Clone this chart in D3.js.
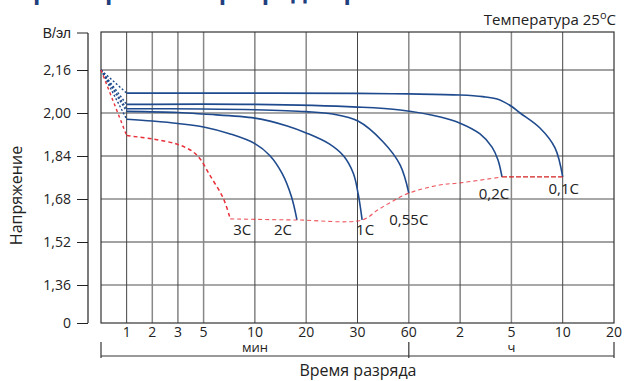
<!DOCTYPE html>
<html>
<head>
<meta charset="utf-8">
<script src="https://cdn.jsdelivr.net/npm/d3@7"></script>
<style>
  html, body { margin: 0; padding: 0; background: #fff; }
  svg { display: block; font-family: "Open Sans", "Noto Sans", sans-serif; }
</style>
</head>
<body>
<svg id="chart" width="624" height="381"></svg>
<script>
// Discharge time axis: minutes, with the tick labels as printed (min, then hours)
const timeTicks = [1, 2, 3, 5, 10, 20, 30, 60, 120, 300, 600, 1200];
const timeTickLabels = ["1", "2", "3", "5", "10", "20", "30", "60", "2", "5", "10", "20"];
// Voltage axis, V per cell
const voltTicks = [1.36, 1.52, 1.68, 1.84, 2.00, 2.16];
const voltTickLabels = ["1,36", "1,52", "1,68", "1,84", "2,00", "2,16"];

// Initial point common to all curves [min, V]
const startPoint = [0, 2.16];

// Discharge curves [minutes, V/cell]
const curve01C = [[1, 2.074], [10, 2.074], [30, 2.073], [60, 2.071], [120, 2.067], [200, 2.061], [250, 2.052], [300, 2.025], [351, 2.000], [467, 1.944], [555, 1.870], [600, 1.762]];
const curve02C = [[1, 2.032], [10, 2.032], [30, 2.022], [55, 2.011], [97, 1.985], [120, 1.962], [190, 1.922], [232, 1.873], [253, 1.825], [267, 1.762]];
const curve055C = [[1, 2.016], [5, 2.015], [10, 2.012], [20, 2.005], [25.2, 1.996], [30.3, 1.970], [44.9, 1.893], [54.9, 1.807], [60, 1.702]];
const curve1C = [[1, 2.006], [3, 2.002], [5, 1.996], [10, 1.981], [16.3, 1.952], [20, 1.926], [24.5, 1.885], [27.3, 1.840], [29.2, 1.775], [30.5, 1.695], [32.7, 1.602]];
const curve2C = [[1, 1.977], [2, 1.970], [3, 1.961], [5, 1.948], [7.6, 1.922], [10, 1.886], [12.9, 1.842], [15.3, 1.775], [17.1, 1.690], [18.2, 1.602]];
const curve3C = [[1, 1.916], [2.03, 1.903], [3, 1.883], [4.1, 1.858], [4.72, 1.830], [5.6, 1.769], [6.9, 1.684], [7.6, 1.606]];
// Final voltage line through the ends of the curves
const endVoltage = [[7.6, 1.606], [18.2, 1.602], [32.7, 1.602], [42, 1.640], [50, 1.670], [60, 1.702], [96, 1.732], [120, 1.740], [267, 1.762], [600, 1.762]];

const rateLabels = ["0,1C", "0,2C", "0,55C", "1C", "2C", "3C"];

const svg = d3.select("#chart");
const plot = { left: 101, right: 614, top: 32, bottom: 323 };

// Piecewise time scale: first four ticks at single spacing, the rest at double spacing
const units = [0, 1, 2, 3, 4, 6, 8, 10, 12, 14, 16, 18, 20];
const unitW = (plot.right - plot.left) / 20;
const x = d3.scaleLinear()
  .domain([0, ...timeTicks])
  .range(units.map(u => plot.left + u * unitW));

// Broken voltage axis: "0" at the bottom, then 1,36 ... 2,16 evenly spaced
const y = d3.scaleLinear()
  .domain([0, 1.36, 2.16])
  .range([plot.bottom, 285, 70]);

// Title (cropped at the top edge)
svg.append("text")
  .attr("x", 300).attr("y", -1)
  .attr("text-anchor", "middle")
  .attr("font-size", 24).attr("font-weight", "bold")
  .attr("fill", "#1f3f7f")
  .text("Характеристики разряда при постоянном токе");

// Temperature note
const temp = svg.append("text")
  .attr("x", 616).attr("y", 25)
  .attr("text-anchor", "end")
  .attr("font-size", 15).attr("fill", "#222");
temp.append("tspan").text("Температура 25");
temp.append("tspan").attr("dy", -6).attr("font-size", 11).text("o");
temp.append("tspan").attr("dy", 6).text("C");

// Grid
const g = svg.append("g");
g.selectAll("line.h").data(voltTicks).join("line")
  .attr("x1", plot.left).attr("x2", plot.right)
  .attr("y1", d => y(d)).attr("y2", d => y(d))
  .attr("stroke", (d, i) => i % 2 ? "#444" : "#a8a8a8")
  .attr("stroke-width", (d, i) => i % 2 ? 1 : 2);
g.selectAll("line.v").data(timeTicks.slice(0, -1)).join("line")
  .attr("x1", d => x(d)).attr("x2", d => x(d))
  .attr("y1", plot.top).attr("y2", plot.bottom)
  .attr("stroke", (d, i) => i % 2 ? "#888" : "#444")
  .attr("stroke-width", (d, i) => i % 2 ? 1.5 : 1);
g.append("rect")
  .attr("x", plot.left).attr("y", plot.top)
  .attr("width", plot.right - plot.left).attr("height", plot.bottom - plot.top)
  .attr("fill", "none").attr("stroke", "#333").attr("stroke-width", 1.2);

// Y axis, set apart from the plot
const axX = 88;
const yAxis = svg.append("g").attr("transform", `translate(${axX},0)`);
yAxis.call(d3.axisLeft(y)
  .tickValues([0, ...voltTicks])
  .tickFormat(d => d === 0 ? "0" : voltTickLabels[voltTicks.indexOf(d)])
  .tickSize(11).tickSizeOuter(0).tickPadding(6));
yAxis.select(".domain").remove();
yAxis.append("line").attr("x1", 0).attr("x2", 0).attr("y1", 33).attr("y2", plot.bottom)
  .attr("stroke", "#222").attr("stroke-width", 1.2);
yAxis.append("line").attr("x1", -11).attr("x2", 0).attr("y1", 33).attr("y2", 33)
  .attr("stroke", "#222");
yAxis.append("text").attr("x", -17).attr("y", 34).attr("dy", "0.32em")
  .attr("text-anchor", "end").attr("fill", "#222").attr("font-size", 14).text("В/эл");
yAxis.selectAll(".tick line").attr("stroke", "#222");
yAxis.selectAll(".tick text").attr("fill", "#222").attr("font-size", 14)
  .attr("font-family", "Open Sans, Noto Sans, sans-serif");

svg.append("text")
  .attr("transform", `translate(22,${(plot.top + plot.bottom) / 2 + 18}) rotate(-90)`)
  .attr("text-anchor", "middle").attr("font-size", 16).attr("fill", "#222")
  .text("Напряжение");

// X tick labels
svg.selectAll("text.xt").data(timeTicks).join("text")
  .attr("x", d => x(d)).attr("y", 337)
  .attr("text-anchor", "middle").attr("font-size", 14).attr("fill", "#222")
  .text((d, i) => timeTickLabels[i]);
svg.append("text").attr("x", x(10)).attr("y", 352).attr("text-anchor", "middle")
  .attr("font-size", 13).attr("fill", "#222").text("мин");
svg.append("text").attr("x", x(300)).attr("y", 352).attr("text-anchor", "middle")
  .attr("font-size", 13).attr("fill", "#222").text("ч");

// Bracket under the time axis (minutes | hours)
const br = svg.append("g").attr("stroke", "#444").attr("stroke-width", 1.3);
br.append("line").attr("x1", plot.left).attr("x2", plot.right).attr("y1", 356).attr("y2", 356)
  .attr("stroke", "#777").attr("stroke-width", 1.6);
[0, 60, 1200].forEach(t => {
  br.append("line").attr("x1", x(t)).attr("x2", x(t)).attr("y1", 342).attr("y2", 358);
});
svg.append("text").attr("x", 358).attr("y", 376).attr("text-anchor", "middle")
  .attr("font-size", 16).attr("fill", "#222").text("Время разряда");

// Curves
const line = d3.line().x(d => x(d[0])).y(d => y(d[1])).curve(d3.curveCatmullRom.alpha(0.5));
const straight = d3.line().x(d => x(d[0])).y(d => y(d[1]));
const blue = "#1f4b8e";
const red = "#e8303a";
const blueCurves = [curve01C, curve02C, curve055C, curve1C, curve2C];

const cg = svg.append("g").attr("fill", "none");
// dotted lead-in from the initial point
blueCurves.forEach(c => {
  cg.append("path").attr("d", straight([startPoint, c[0]]))
    .attr("stroke", blue).attr("stroke-width", 1.4).attr("stroke-dasharray", "2,2");
});
blueCurves.forEach(c => {
  cg.append("path").attr("d", line(c)).attr("stroke", blue).attr("stroke-width", 1.6);
});
cg.append("path").attr("d", straight([startPoint, curve3C[0]]))
  .attr("stroke", red).attr("stroke-width", 1.4).attr("stroke-dasharray", "3,3");
cg.append("path").attr("d", line(curve3C))
  .attr("stroke", red).attr("stroke-width", 1.5).attr("stroke-dasharray", "4,3");
cg.append("path").attr("d", line(endVoltage.slice(0, -1)))
  .attr("stroke", red).attr("stroke-width", 1.1).attr("stroke-dasharray", "4,3").attr("opacity", 0.8);
cg.append("path").attr("d", straight(endVoltage.slice(-2)))
  .attr("stroke", "#d42020").attr("stroke-width", 1.3).attr("stroke-dasharray", "5,2");

// Rate labels next to the end of each curve
const ends = [curve01C, curve02C, curve055C, curve1C, curve2C, curve3C].map(c => c[c.length - 1]);
const labelOffsets = [[1, 17], [-8, 22], [0, 32], [3, 15], [-14, 15], [12, 16]];
svg.selectAll("text.rate").data(rateLabels).join("text")
  .attr("x", (d, i) => x(ends[i][0]) + labelOffsets[i][0])
  .attr("y", (d, i) => y(ends[i][1]) + labelOffsets[i][1])
  .attr("text-anchor", "middle").attr("font-size", 15).attr("fill", "#222")
  .text(d => d);
</script>
</body>
</html>
